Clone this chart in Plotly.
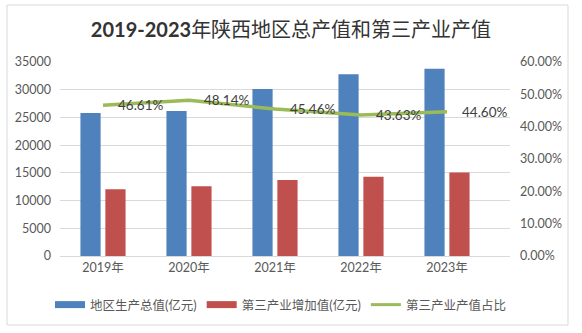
import plotly.graph_objects as go

years = ["2019年", "2020年", "2021年", "2022年", "2023年"]
gdp = [25793, 26182, 30121, 32772, 33786]
tertiary = [12022, 12604, 13693, 14298, 15069]
share = [0.4661, 0.4814, 0.4546, 0.4363, 0.4460]
left_ticks = [0, 5000, 10000, 15000, 20000, 25000, 30000, 35000]
right_ticks = [0, 0.1, 0.2, 0.3, 0.4, 0.5, 0.6]
names = ["地区生产总值(亿元)", "第三产业增加值(亿元)", "第三产业产值占比"]
colors = ["#4F81BD", "#C0504D", "#9BBB59"]

FONT = "Lato, 'Noto Sans CJK SC', sans-serif"
W, H = 582, 333
L, R, T, B = 60, 72, 62, 77
pw, ph = W - L - R, H - T - B

def px_x(p):
    return (p - L) / pw

def px_y(p):
    return (H - B - p) / ph

fig = go.Figure()
fig.add_trace(go.Bar(x=years, y=gdp, name=names[0], marker_color=colors[0],
                     marker_line_width=0, hoverinfo="skip", showlegend=False))
fig.add_trace(go.Bar(x=years, y=tertiary, name=names[1], marker_color=colors[1],
                     marker_line_width=0, hoverinfo="skip", showlegend=False))
fig.add_trace(go.Scatter(x=years, y=share, name=names[2], yaxis="y2", mode="lines",
                         line=dict(color=colors[2], width=3.5), hoverinfo="skip",
                         showlegend=False))

# legend-only entries (wide rectangular swatches like the original)
for nm, c, w in zip(names, colors, [7, 7, 3]):
    fig.add_trace(go.Scatter(x=[None], y=[None], name=nm, mode="lines",
                             line=dict(color=c, width=w), hoverinfo="skip"))

for xv, yv in zip(years, share):
    fig.add_annotation(x=xv, y=yv, xref="x", yref="y2", text=f"{yv*100:.2f}%",
                       showarrow=False, xanchor="left", yanchor="middle", xshift=13,
                       font=dict(size=13.5, color="#404040", family=FONT))

fig.update_layout(
    width=W, height=H,
    margin=dict(l=L, r=R, t=T, b=B, autoexpand=False),
    paper_bgcolor="white", plot_bgcolor="white",
    font=dict(family=FONT, color="#595959", size=11),
    title=dict(text="<b>2019-2023</b>年陕西地区总产值和第三产业产值", x=0.5, xanchor="center",
               y=1 - 30 / H, yanchor="middle", font=dict(size=20, color="#333333", family=FONT)),
    barmode="group", bargap=0.42, bargroupgap=0.19,
    xaxis=dict(showgrid=False, showline=True, linecolor="#d9d9d9", linewidth=1,
               ticks="", tickfont=dict(size=12.5, color="#595959"), fixedrange=True),
    yaxis=dict(range=[0, 35000], tickvals=left_ticks, showgrid=True, gridcolor="#d9d9d9",
               gridwidth=1, zeroline=False, showline=False, ticks="", ticklabelstandoff=8,
               tickfont=dict(size=12.5, color="#595959"), tickformat="d"),
    yaxis2=dict(range=[0, 0.6], tickvals=right_ticks, overlaying="y", side="right",
                showgrid=False, zeroline=False, showline=False, tickformat=".2%",
                ticklabelstandoff=9, tickfont=dict(size=12.5, color="#595959")),
    legend=dict(orientation="h", x=px_x(50), xanchor="left",
                y=px_y(305), yanchor="middle",
                font=dict(size=12.5, color="#595959"), itemwidth=30, tracegroupgap=0,
                bgcolor="rgba(0,0,0,0)"),
    shapes=[dict(type="rect", xref="paper", yref="paper",
                 x0=px_x(7), x1=px_x(568), y0=px_y(325), y1=px_y(5),
                 line=dict(color="#d9d9d9", width=1), layer="below")],
    hovermode=False,
)

fig.write_html("out.html")
